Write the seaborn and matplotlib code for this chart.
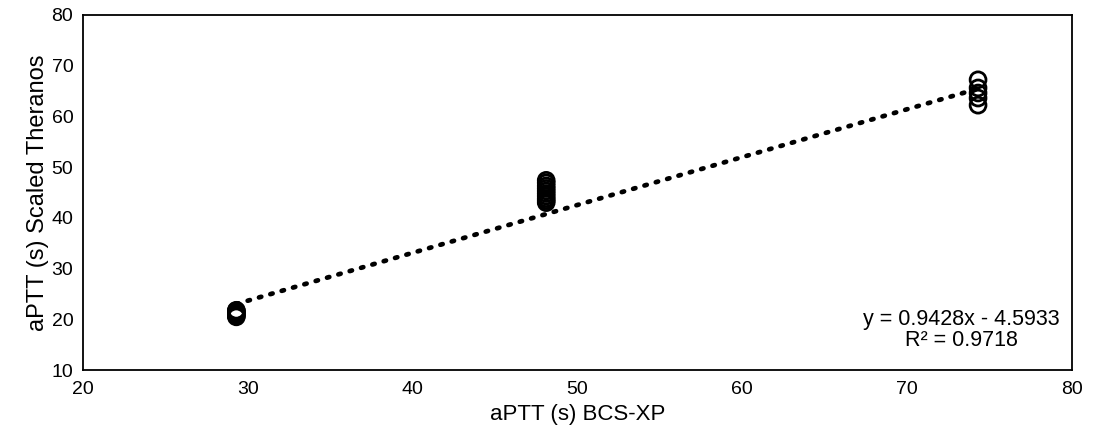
import numpy as np
import pandas as pd
import matplotlib
matplotlib.use("Agg")
import matplotlib.pyplot as plt
import seaborn as sns

# Data
bcs_xp = [29.3] * 8 + [48.1] * 10 + [74.3] * 5
theranos = [20.5, 20.7, 20.9, 21.1, 21.3, 21.5, 21.7, 21.8,
            43.0, 43.4, 43.8, 44.3, 44.8, 45.3, 45.8, 46.3, 46.9, 47.4,
            62.2, 63.6, 64.6, 65.6, 67.2]
slope = 0.9428
intercept = -4.5933
r_squared = 0.9718
x_ticks = [20, 30, 40, 50, 60, 70, 80]
y_ticks = [10, 20, 30, 40, 50, 60, 70, 80]

df = pd.DataFrame({"x": bcs_xp, "y": theranos})
trend_x = np.array([min(bcs_xp), max(bcs_xp)])
trend_df = pd.DataFrame({"x": trend_x, "y": slope * trend_x + intercept})

sns.set_theme(style="white")
plt.rcParams["font.family"] = ["Liberation Sans", "DejaVu Sans"]

fig = plt.figure(figsize=(10.94, 4.36), dpi=100)
ax = fig.add_axes([0.0759, 0.151, 0.904, 0.815])

sns.scatterplot(data=df, x="x", y="y", ax=ax, s=130, marker="o",
                facecolor="none", edgecolor="black", linewidth=2.0, zorder=3)
sns.lineplot(data=trend_df, x="x", y="y", ax=ax, color="black",
             linewidth=3.4, linestyle=(0, (0.5, 2.0)),
             dash_capstyle="round", zorder=2)

ax.set_xlim(20, 80)
ax.set_ylim(10, 80)
ax.set_xticks(x_ticks)
ax.set_yticks(y_ticks)
ax.tick_params(axis="both", length=0, labelsize=14, colors="black")
ax.tick_params(axis="x", pad=8)
ax.tick_params(axis="y", pad=7)
ax.set_xlabel("aPTT (s) BCS-XP", fontsize=16, color="black", labelpad=4)
ax.set_ylabel("aPTT (s) Scaled Theranos", fontsize=17, color="black", labelpad=2)
for sp in ax.spines.values():
    sp.set_color("black")
    sp.set_linewidth(1.3)
    sp.set_visible(True)

ax.text(0.888, 0.113, f"y = {slope}x - {abs(intercept)}\nR² = {r_squared}",
        transform=ax.transAxes, ha="center", va="center",
        multialignment="center", fontsize=15.5, color="black", linespacing=1.0)

fig.savefig("out.png", dpi=100, facecolor="white")
